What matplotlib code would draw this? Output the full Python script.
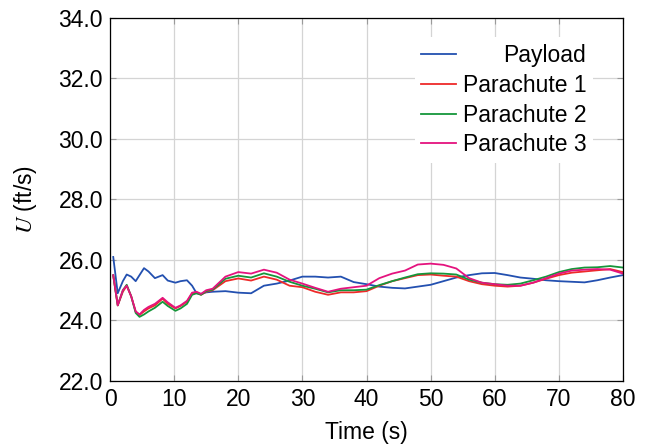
import matplotlib
matplotlib.use("Agg")
import matplotlib.pyplot as plt
from matplotlib.ticker import FormatStrFormatter

plt.rcParams['font.family'] = ['Liberation Sans', 'DejaVu Sans']
plt.rcParams['mathtext.fontset'] = 'stix'

# time samples (s) and velocity U (ft/s) for each body
time = [0.5, 1.2, 2, 2.6, 3.3, 4, 4.6, 5.3, 6, 7, 8.2, 9, 10.2, 11, 12, 12.8,
        13.5, 14.2, 15, 16, 18, 20, 22, 24, 26, 28, 30, 32, 34, 36, 38, 40, 42,
        44, 46, 48, 50, 52, 54, 56, 58, 60, 62, 64, 66, 68, 70, 72, 74, 76, 78, 80]

payload = [26.1, 24.9, 25.3, 25.52, 25.45, 25.3, 25.5, 25.73, 25.62, 25.4, 25.5,
           25.32, 25.25, 25.3, 25.33, 25.15, 24.9, 24.88, 24.93, 24.95,
           24.97, 24.92, 24.9, 25.15, 25.22, 25.32, 25.45, 25.45, 25.42, 25.45,
           25.27, 25.2, 25.12, 25.08, 25.06, 25.12, 25.18, 25.3, 25.42, 25.5,
           25.56, 25.57, 25.5, 25.42, 25.38, 25.33, 25.3, 25.28, 25.26, 25.33,
           25.42, 25.5]

parachute1 = [25.48, 24.5, 24.95, 25.15, 24.8, 24.3, 24.18, 24.3, 24.4, 24.5,
              24.72, 24.55, 24.4, 24.48, 24.62, 24.9, 24.92, 24.85, 24.95, 25.0,
              25.3, 25.39, 25.32, 25.45, 25.35, 25.15, 25.1, 24.95, 24.85, 24.93,
              24.93, 24.97, 25.15, 25.3, 25.4, 25.5, 25.52, 25.48, 25.45, 25.3,
              25.2, 25.15, 25.12, 25.15, 25.25, 25.38, 25.5, 25.58, 25.62, 25.66,
              25.7, 25.6]

parachute2 = [25.5, 24.5, 25.0, 25.18, 24.8, 24.25, 24.12, 24.2, 24.3, 24.42,
              24.62, 24.48, 24.32, 24.4, 24.55, 24.85, 24.9, 24.85, 24.97, 25.02,
              25.38, 25.48, 25.42, 25.56, 25.45, 25.28, 25.15, 25.05, 24.93, 25.0,
              25.0, 25.02, 25.17, 25.3, 25.42, 25.53, 25.56, 25.55, 25.52, 25.35,
              25.25, 25.2, 25.18, 25.22, 25.33, 25.45, 25.6, 25.7, 25.75, 25.76,
              25.8, 25.75]

parachute3 = [25.5, 24.5, 25.0, 25.15, 24.8, 24.3, 24.2, 24.35, 24.45, 24.55,
              24.75, 24.6, 24.42, 24.5, 24.65, 24.92, 24.95, 24.88, 25.0, 25.05,
              25.45, 25.6, 25.55, 25.68, 25.58, 25.35, 25.22, 25.08, 24.95, 25.05,
              25.1, 25.15, 25.4, 25.55, 25.65, 25.85, 25.88, 25.84, 25.72, 25.4,
              25.25, 25.2, 25.15, 25.15, 25.25, 25.4, 25.55, 25.65, 25.68, 25.7,
              25.68, 25.55]

labels = ['Payload', 'Parachute 1', 'Parachute 2', 'Parachute 3']
colors = ['#2350b0', '#ee2a2a', '#15963a', '#e4137e']

fs = 16.5

fig = plt.figure(figsize=(6.48, 4.44), dpi=100)
ax = fig.add_axes([0.1698, 0.1419, 0.7916, 0.8176])

for y, lab, c in zip([payload, parachute1, parachute2, parachute3], labels, colors):
    ax.plot(time, y, color=c, lw=1.3, label=lab)

ax.set_xlim(0, 80)
ax.set_ylim(22, 34)
ax.set_xticks(range(0, 81, 10))
ax.set_yticks([22, 24, 26, 28, 30, 32, 34])
ax.yaxis.set_major_formatter(FormatStrFormatter('%.1f'))
ax.grid(True, color='#d4d4d4', lw=0.9)
ax.set_axisbelow(True)
ax.tick_params(direction='in', top=True, right=True, length=4, width=0.8,
               color='#9a9a9a', labelsize=fs, pad=5)
for s in ax.spines.values():
    s.set_color('black')
    s.set_linewidth(0.9)

ax.set_xlabel('Time (s)', fontsize=fs, labelpad=7)
ax.set_ylabel('$U$ (ft/s)', fontsize=fs, labelpad=14)

leg = ax.legend(loc='upper right', bbox_to_anchor=(0.942, 0.9477), fontsize=fs,
                frameon=True, fancybox=False, edgecolor='none', facecolor='white',
                framealpha=1.0, handlelength=1.5, handletextpad=0.3,
                labelspacing=0.3, borderpad=0.3, borderaxespad=0.0)

# right-align the legend entries inside their column
fig.canvas.draw()
renderer = fig.canvas.get_renderer()
widths = [t.get_window_extent(renderer).width for t in leg.get_texts()]
shift = max(widths)
for t, w in zip(leg.get_texts(), widths):
    t.set_position((shift - w, 0))

fig.savefig('out.png', dpi=100)
